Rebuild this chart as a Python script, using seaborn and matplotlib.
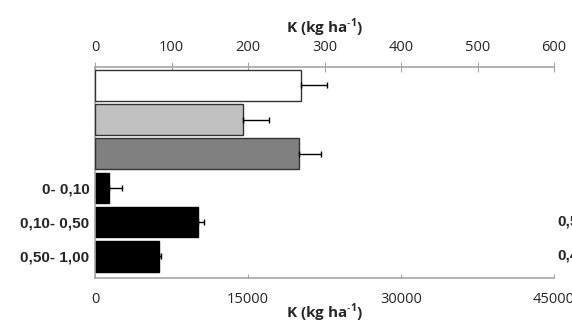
import pandas as pd
import matplotlib
matplotlib.use('Agg')
import matplotlib.pyplot as plt
import seaborn as sns

sns.set_style('white')
plt.rcParams['font.family'] = ['Open Sans', 'DejaVu Sans']
plt.rcParams['mathtext.fontset'] = 'custom'
plt.rcParams['mathtext.bf'] = 'Open Sans:bold'
plt.rcParams['mathtext.rm'] = 'Open Sans'

# categorias (as 3 de cima sem rotulo)
cats = ['t1', 't2', 't3', '0- 0,10', '0,10- 0,50', '0,50- 1,00']
cat_labels = ['', '', '', '0- 0,10', '0,10- 0,50', '0,50- 1,00']

# barras de cima (eixo superior 0-600)
top_cats = ['t1', 't2', 't3']
top_vals = [269, 194, 267]
top_err = [34, 34, 28]
top_colors = ['white', '#c0c0c0', '#808080']

# barras de baixo (eixo inferior 0-45000)
bot_cats = ['0- 0,10', '0,10- 0,50', '0,50- 1,00']
bot_vals = [1350, 10100, 6250]
bot_err = [1300, 560, 230]

top_ticks = [0, 100, 200, 300, 400, 500, 600]
bot_ticks = [0, 15000, 30000, 45000]

grey = '#a6a6a6'
xlab = r'K (kg ha$^{\mathbf{\text{-}1}}$)'

fig = plt.figure(figsize=(5.72, 3.2), dpi=100)
ax = fig.add_axes([95/572, 1 - 278/320, (554 - 95)/572, (278 - 67)/320])
ax2 = ax.twiny()

dtop = pd.DataFrame({'cat': top_cats, 'K': top_vals})
dbot = pd.DataFrame({'cat': bot_cats, 'K': bot_vals})

sns.barplot(data=dbot, x='K', y='cat', order=cats, hue='cat', legend=False,
            palette={c: 'black' for c in bot_cats}, width=0.9,
            edgecolor='black', linewidth=1, ax=ax)
sns.barplot(data=dtop, x='K', y='cat', order=cats, hue='cat', legend=False,
            palette=dict(zip(top_cats, top_colors)), width=0.9,
            edgecolor='#333333', linewidth=1, ax=ax2)

ax.errorbar(bot_vals, [3, 4, 5], xerr=[[0, 0, 0], bot_err], fmt='none',
            ecolor='black', elinewidth=1, capsize=2.5, capthick=1)
ax2.errorbar(top_vals, [0, 1, 2], xerr=[[0, 0, 0], top_err], fmt='none',
             ecolor='black', elinewidth=1, capsize=2.5, capthick=1)

ax.set_xlim(0, 45000)
ax2.set_xlim(0, 600)
ax.set_ylim(5.64, -0.54)

ax.set_xticks(bot_ticks)
ax.set_xticklabels([str(t) for t in bot_ticks])
ax2.set_xticks(top_ticks)
ax2.set_xticklabels([str(t) for t in top_ticks])

ax.set_yticks(range(len(cats)))
ax.set_yticklabels(cat_labels, fontfamily='Liberation Sans', fontweight='bold', fontsize=11)
ax.set_ylabel('')

ax.tick_params(axis='y', length=0, pad=4)
ax.tick_params(axis='x', direction='in', length=3, color=grey, labelsize=10.5, pad=10)
ax2.tick_params(axis='x', direction='inout', length=6.5, color=grey, labelsize=10.5, pad=5.5)

for s in ['top', 'right']:
    ax.spines[s].set_visible(False)
for s in ['left', 'bottom']:
    ax.spines[s].set_color(grey)
    ax.spines[s].set_linewidth(1.2)
for s in ['left', 'bottom', 'right']:
    ax2.spines[s].set_visible(False)
ax2.spines['top'].set_color(grey)
ax2.spines['top'].set_linewidth(1.2)

ax.set_xlabel(xlab, fontweight='bold', fontsize=11, labelpad=-4)
ax2.set_xlabel(xlab, fontweight='bold', fontsize=11, labelpad=5)

# rotulos cortados de outro grafico na borda direita
fig.text(557/572, 1 - 221/320, '0,50', fontfamily='Liberation Sans', fontweight='bold',
         fontsize=11, va='center', ha='left')
fig.text(557/572, 1 - 256/320, '0,40', fontfamily='Liberation Sans', fontweight='bold',
         fontsize=11, va='center', ha='left')

fig.savefig('out.png', dpi=100)
